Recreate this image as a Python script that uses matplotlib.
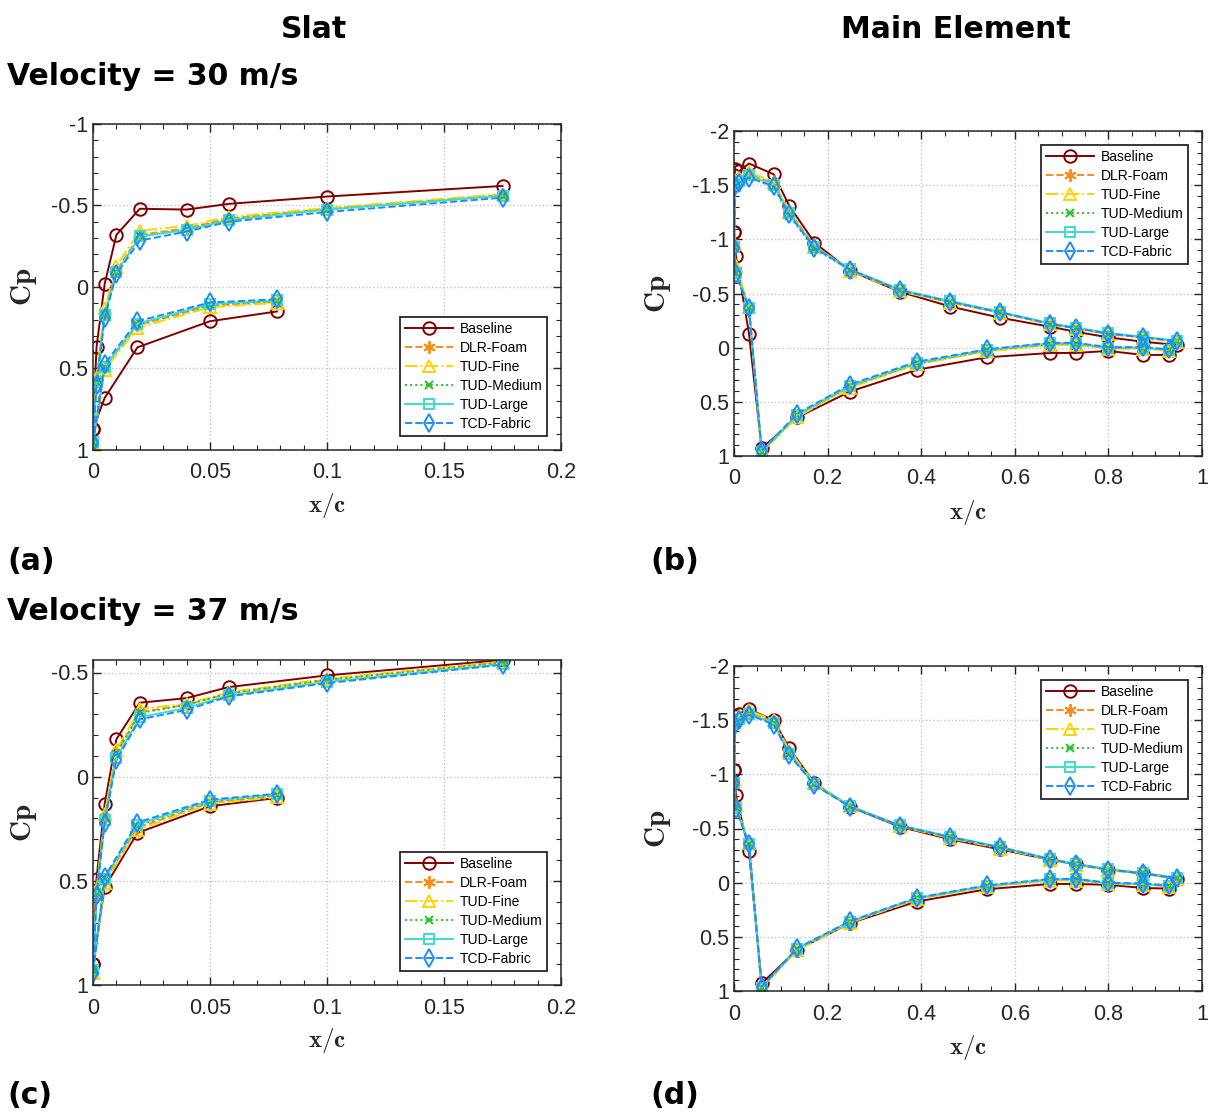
import numpy as np
import matplotlib.pyplot as plt
from matplotlib.ticker import MultipleLocator

plt.rcParams['font.family'] = ['Liberation Sans', 'DejaVu Sans']
plt.rcParams['mathtext.fontset'] = 'cm'
plt.rcParams['axes.unicode_minus'] = False

SERIES = ['Baseline', 'DLR-Foam', 'TUD-Fine', 'TUD-Medium', 'TUD-Large', 'TCD-Fabric']

# slat tap positions (x/c)
slat_x_up = [0, 0.0015, 0.005, 0.01, 0.02, 0.04, 0.058, 0.1, 0.175]
slat_x_lo = [0, 0.005, 0.019, 0.05, 0.0786]

# main element tap positions (x/c)
main_x_up = [0, 0.002, 0.011, 0.032, 0.085, 0.118, 0.172, 0.248, 0.355,
             0.462, 0.569, 0.676, 0.73, 0.80, 0.874, 0.947]
main_x_lo = [0, 0.004, 0.032, 0.059, 0.135, 0.248, 0.39, 0.54, 0.676,
             0.73, 0.80, 0.874, 0.929]

# (a) slat, 30 m/s -- rows follow SERIES
cp_a_up = [
    [0.87, 0.37, -0.02, -0.32, -0.48, -0.475, -0.51, -0.555, -0.62],
    [0.95, 0.57, 0.16, -0.10, -0.32, -0.36, -0.42, -0.48, -0.565],
    [0.96, 0.55, 0.13, -0.13, -0.345, -0.375, -0.43, -0.485, -0.57],
    [0.95, 0.58, 0.17, -0.09, -0.31, -0.355, -0.415, -0.475, -0.56],
    [0.95, 0.58, 0.17, -0.09, -0.31, -0.35, -0.41, -0.475, -0.56],
    [0.96, 0.60, 0.19, -0.08, -0.285, -0.34, -0.40, -0.46, -0.548],
]
cp_a_lo = [
    [0.87, 0.68, 0.37, 0.21, 0.15],
    [0.95, 0.49, 0.235, 0.115, 0.09],
    [0.96, 0.51, 0.25, 0.125, 0.097],
    [0.95, 0.49, 0.23, 0.11, 0.085],
    [0.95, 0.49, 0.225, 0.105, 0.082],
    [0.96, 0.47, 0.21, 0.095, 0.075],
]

# (b) main element, 30 m/s
cp_b_up = [
    [-1.07, -1.65, -1.63, -1.70, -1.60, -1.31, -0.97, -0.71, -0.515, -0.38, -0.276, -0.193, -0.147, -0.095, -0.055, -0.025],
    [-0.95, -1.52, -1.55, -1.60, -1.52, -1.26, -0.94, -0.72, -0.53, -0.42, -0.325, -0.22, -0.18, -0.13, -0.095, -0.06],
    [-0.97, -1.55, -1.57, -1.62, -1.53, -1.25, -0.93, -0.71, -0.52, -0.415, -0.32, -0.215, -0.175, -0.125, -0.09, -0.055],
    [-0.93, -1.50, -1.53, -1.57, -1.48, -1.22, -0.91, -0.72, -0.53, -0.42, -0.325, -0.22, -0.18, -0.13, -0.095, -0.06],
    [-0.93, -1.51, -1.54, -1.59, -1.50, -1.24, -0.93, -0.725, -0.535, -0.43, -0.33, -0.225, -0.185, -0.135, -0.10, -0.065],
    [-0.92, -1.49, -1.52, -1.57, -1.49, -1.23, -0.92, -0.72, -0.53, -0.425, -0.325, -0.22, -0.18, -0.13, -0.095, -0.06],
]
cp_b_lo = [
    [-1.07, -0.85, -0.13, 0.93, 0.644, 0.405, 0.205, 0.089, 0.049, 0.049, 0.03, 0.067, 0.067],
    [-0.95, -0.72, -0.36, 0.96, 0.63, 0.36, 0.15, 0.03, -0.03, -0.03, 0.005, 0.005, 0.025],
    [-0.97, -0.75, -0.38, 0.97, 0.64, 0.37, 0.155, 0.035, -0.025, -0.025, 0.01, 0.01, 0.03],
    [-0.93, -0.69, -0.37, 0.96, 0.62, 0.355, 0.145, 0.025, -0.035, -0.035, 0.0, 0.0, 0.02],
    [-0.93, -0.69, -0.37, 0.96, 0.62, 0.35, 0.14, 0.02, -0.04, -0.04, 0.0, 0.0, 0.02],
    [-0.92, -0.68, -0.37, 0.95, 0.61, 0.34, 0.13, 0.015, -0.045, -0.045, -0.005, -0.005, 0.015],
]

# (c) slat, 37 m/s
cp_c_up = [
    [0.90, 0.49, 0.13, -0.18, -0.355, -0.377, -0.43, -0.486, -0.56],
    [0.93, 0.56, 0.20, -0.11, -0.31, -0.345, -0.40, -0.465, -0.55],
    [0.94, 0.54, 0.18, -0.13, -0.325, -0.35, -0.405, -0.47, -0.552],
    [0.93, 0.56, 0.20, -0.11, -0.305, -0.345, -0.40, -0.465, -0.548],
    [0.93, 0.57, 0.21, -0.09, -0.285, -0.33, -0.39, -0.455, -0.54],
    [0.94, 0.57, 0.22, -0.08, -0.275, -0.32, -0.385, -0.449, -0.537],
]
cp_c_lo = [
    [0.90, 0.53, 0.27, 0.142, 0.102],
    [0.93, 0.50, 0.245, 0.125, 0.095],
    [0.94, 0.51, 0.255, 0.13, 0.099],
    [0.93, 0.49, 0.235, 0.12, 0.09],
    [0.93, 0.49, 0.23, 0.115, 0.085],
    [0.94, 0.48, 0.22, 0.11, 0.082],
]

# (d) main element, 37 m/s
cp_d_up = [
    [-1.04, -1.54, -1.56, -1.60, -1.50, -1.24, -0.92, -0.70, -0.515, -0.40, -0.307, -0.21, -0.17, -0.12, -0.086, -0.034],
    [-0.93, -1.48, -1.52, -1.57, -1.48, -1.20, -0.91, -0.70, -0.52, -0.415, -0.32, -0.213, -0.17, -0.12, -0.086, -0.04],
    [-0.95, -1.50, -1.54, -1.59, -1.50, -1.22, -0.92, -0.71, -0.52, -0.41, -0.315, -0.21, -0.165, -0.115, -0.08, -0.035],
    [-0.92, -1.47, -1.51, -1.56, -1.47, -1.19, -0.91, -0.70, -0.525, -0.42, -0.325, -0.215, -0.17, -0.12, -0.086, -0.04],
    [-0.92, -1.47, -1.51, -1.56, -1.47, -1.19, -0.91, -0.705, -0.53, -0.425, -0.33, -0.22, -0.175, -0.125, -0.09, -0.045],
    [-0.92, -1.46, -1.50, -1.55, -1.46, -1.18, -0.90, -0.70, -0.525, -0.42, -0.325, -0.215, -0.17, -0.12, -0.086, -0.04],
]
cp_d_lo = [
    [-1.04, -0.81, -0.29, 0.93, 0.62, 0.374, 0.175, 0.061, 0.012, 0.012, 0.02, 0.049, 0.055],
    [-0.93, -0.70, -0.35, 0.97, 0.615, 0.365, 0.15, 0.035, -0.025, -0.025, 0.008, 0.015, 0.033],
    [-0.95, -0.72, -0.37, 0.98, 0.625, 0.37, 0.155, 0.04, -0.02, -0.02, 0.012, 0.02, 0.036],
    [-0.92, -0.69, -0.36, 0.97, 0.61, 0.36, 0.145, 0.03, -0.03, -0.03, 0.006, 0.012, 0.03],
    [-0.92, -0.69, -0.36, 0.97, 0.61, 0.36, 0.144, 0.03, -0.03, -0.03, 0.006, 0.012, 0.03],
    [-0.92, -0.68, -0.36, 0.96, 0.605, 0.355, 0.14, 0.025, -0.035, -0.035, 0.0, 0.008, 0.025],
]

# asterisk marker for DLR-Foam is a 6-spoke line marker
styles = [
    dict(color='#800000', ls='-', marker='o', ms=9, mfc='none'),
    dict(color='#FF8C1A', ls='--', marker=(6, 2, 0), ms=9),
    dict(color='#FFD200', ls='-.', marker='^', ms=9, mfc='none'),
    dict(color='#22C422', ls=':', marker='x', ms=6),
    dict(color='#3FDCCB', ls='-', marker='s', ms=7, mfc='none'),
    dict(color='#1E8CFF', ls='--', marker='d', ms=9, mfc='none'),
]

W, H = 1212, 1113
fig = plt.figure(figsize=(W / 100, H / 100), dpi=100)


def add_axes(l, t, r, b):
    return fig.add_axes([l / W, 1 - b / H, (r - l) / W, (b - t) / H])


def draw(ax, x_up, cp_up, x_lo, cp_lo, xlim, ylim, xstep, xminor, ystep, legend_loc):
    for i, name in enumerate(SERIES):
        st = styles[i]
        ax.plot(x_up, cp_up[i], lw=1.4, mew=1.4, label=name, **st)
        ax.plot(x_lo, cp_lo[i], lw=1.4, mew=1.4, **st)
    ax.set_xlim(*xlim)
    ax.set_ylim(ylim[1], ylim[0])
    ax.xaxis.set_major_locator(MultipleLocator(xstep))
    ax.xaxis.set_minor_locator(MultipleLocator(xminor))
    ax.yaxis.set_major_locator(MultipleLocator(ystep))
    ax.yaxis.set_minor_locator(MultipleLocator(0.1))
    ax.xaxis.set_major_formatter(plt.FuncFormatter(lambda v, p: ('%g' % round(v, 4))))
    ax.yaxis.set_major_formatter(plt.FuncFormatter(lambda v, p: ('%g' % round(v, 4))))
    ax.grid(True, which='major', ls=':', color='#c4c4c4', lw=1.0)
    ax.tick_params(which='both', direction='in', top=True, right=True,
                   color='#262626', labelcolor='#262626', labelsize=15.5)
    ax.tick_params(which='major', length=6, width=1.0)
    ax.tick_params(which='minor', length=3.5, width=0.8)
    ax.tick_params(axis='x', pad=9)
    for s in ax.spines.values():
        s.set_color('#262626')
        s.set_linewidth(1.1)
    ax.set_xlabel(r'$\mathbf{x/c}$', fontsize=18, color='#262626')
    ax.set_ylabel(r'$\mathbf{Cp}$', fontsize=21, color='#262626')
    leg = ax.legend(loc=legend_loc, fontsize=10, handlelength=3.4,
                    labelspacing=0.36, borderpad=0.35, borderaxespad=1.0,
                    fancybox=False, framealpha=1, edgecolor='#262626',
                    handletextpad=0.5)
    leg.get_frame().set_linewidth(1.3)


ax_a = add_axes(93, 124, 561, 450)
draw(ax_a, slat_x_up, cp_a_up, slat_x_lo, cp_a_lo, (0, 0.2), (-1, 1), 0.05, 0.01, 0.5, 'lower right')
ax_b = add_axes(734, 131, 1202, 456)
draw(ax_b, main_x_up, cp_b_up, main_x_lo, cp_b_lo, (0, 1), (-2, 1), 0.2, 0.05, 0.5, 'upper right')
ax_c = add_axes(93, 660, 561, 985)
draw(ax_c, slat_x_up, cp_c_up, slat_x_lo, cp_c_lo, (0, 0.2), (-0.56, 1), 0.05, 0.01, 0.5, 'lower right')
ax_d = add_axes(734, 666, 1202, 991)
draw(ax_d, main_x_up, cp_d_up, main_x_lo, cp_d_lo, (0, 1), (-2, 1), 0.2, 0.05, 0.5, 'upper right')

for ax in (ax_a, ax_c):
    ax.yaxis.set_label_coords(-0.115, 0.5)
    ax.xaxis.set_label_coords(0.5, -0.125)
for ax in (ax_b, ax_d):
    ax.yaxis.set_label_coords(-0.13, 0.5)
    ax.xaxis.set_label_coords(0.5, -0.128)

head = dict(fontsize=21.5, fontweight='bold', family='DejaVu Sans', color='black')
fig.text(314 / W, 1 - 38 / H, 'Slat', ha='center', va='baseline', **head)
fig.text(956 / W, 1 - 38 / H, 'Main Element', ha='center', va='baseline', **head)
fig.text(7 / W, 1 - 85 / H, 'Velocity = 30 m/s', ha='left', va='baseline', **head)
fig.text(7 / W, 1 - 620 / H, 'Velocity = 37 m/s', ha='left', va='baseline', **head)
fig.text(7 / W, 1 - 570 / H, '(a)', ha='left', va='baseline', **head)
fig.text(650 / W, 1 - 570 / H, '(b)', ha='left', va='baseline', **head)
fig.text(7 / W, 1 - 1104 / H, '(c)', ha='left', va='baseline', **head)
fig.text(650 / W, 1 - 1104 / H, '(d)', ha='left', va='baseline', **head)

fig.savefig('out.png', dpi=100)
